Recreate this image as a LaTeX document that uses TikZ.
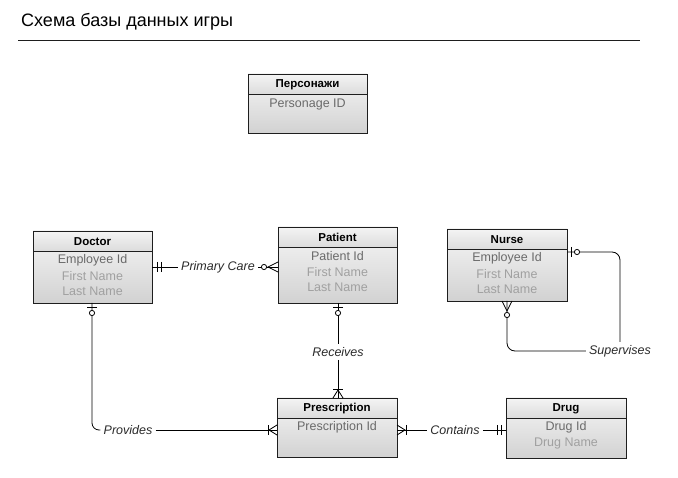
\documentclass[tikz,border=0pt]{standalone}
\usepackage{fontspec}
\setmainfont{Liberation Sans}
\usetikzlibrary{calc}
\definecolor{bordc}{HTML}{1E1E1E}
\definecolor{hdtop}{HTML}{F4F4F4}
\definecolor{hdbot}{HTML}{DCDCDC}
\definecolor{bdtop}{HTML}{F6F6F6}
\definecolor{bdbot}{HTML}{D2D2D2}
\definecolor{keyc}{HTML}{6A6A6A}
\definecolor{attc}{HTML}{A0A0A0}
\definecolor{labc}{HTML}{2A2A2A}
\begin{document}
\begin{tikzpicture}[x=1pt,y=-1pt,
  ebox/.style={draw=bordc, line width=0.8pt, top color=bdtop, bottom color=bdbot, inner sep=0pt, outer sep=0pt},
  hdtext/.style={font=\fontsize{11.5}{13}\selectfont\bfseries, text=black, inner sep=0pt},
  keytext/.style={font=\fontsize{12.5}{14}\selectfont, text=keyc, inner sep=0pt},
  atttext/.style={font=\fontsize{12.5}{14}\selectfont, text=attc, inner sep=0pt},
  rel/.style={font=\fontsize{12.5}{14}\selectfont\itshape, text=labc, inner sep=3pt},
  conn/.style={draw=black, line width=0.8pt},
  mk/.style={draw=black, line width=0.8pt},
  onlyone/.pic={\draw[mk] (5,-5) -- (5,5); \draw[mk] (9,-5) -- (9,5);},
  zeroone/.pic={\draw[mk] (4,-5) -- (4,5); \draw[mk, fill=white] (10,0) circle (2.6);},
  onemany/.pic={\draw[mk] (0,-5) -- (8,0) -- (0,5); \draw[mk] (9,-5) -- (9,5);},
  zeromany/.pic={\draw[mk] (0,-5) -- (10,0) -- (0,5); \draw[mk, fill=white] (14,0) circle (2.6);}
]
\useasboundingbox (0,0) rectangle (678,478);

% title
\node[anchor=west, inner sep=0pt, font=\fontsize{18}{21}\selectfont] (title) at (21,22) {Схема базы данных игры};
\draw[draw=bordc, line width=0.8pt] (18,40) -- (640,40);

% entity macro: name, x1,y1,x2,y2, title
\newcommand\entbox[6]{%
  \node[ebox, minimum width={#4-#2}, minimum height={#5-#3}] (#1) at ({(#2+#4)/2},{(#3+#5)/2}) {};
  \path[top color=hdtop, bottom color=hdbot] (#1.north west) rectangle ($(#1.north east)+(0,20)$);
  \draw[draw=bordc, line width=0.8pt] ($(#1.north west)+(0,20)$) -- ($(#1.north east)+(0,20)$);
  \draw[draw=bordc, line width=0.8pt] (#1.north west) rectangle (#1.south east);
  \node[hdtext] (#1-title) at ($(#1.north)+(0,10.5)$) {#6};
}

\entbox{pers}{248}{74}{367}{133}{Персонажи}
\node[keytext] (pers-a) at ($(pers.north)+(0,30)$) {Personage ID};

\entbox{doctor}{33}{231}{152}{303}{Doctor}
\node[keytext] (doctor-a) at ($(doctor.north)+(0,29.5)$) {Employee Id};
\node[atttext] (doctor-b) at ($(doctor.north)+(0,45)$) {First Name};
\node[atttext] (doctor-c) at ($(doctor.north)+(0,60.5)$) {Last Name};

\entbox{patient}{278}{227}{397}{303}{Patient}
\node[keytext] (patient-a) at ($(patient.north)+(0,29.5)$) {Patient Id};
\node[atttext] (patient-b) at ($(patient.north)+(0,45)$) {First Name};
\node[atttext] (patient-c) at ($(patient.north)+(0,60.5)$) {Last Name};

\entbox{nurse}{447}{229}{567}{301}{Nurse}
\node[keytext] (nurse-a) at ($(nurse.north)+(0,29.5)$) {Employee Id};
\node[atttext] (nurse-b) at ($(nurse.north)+(0,45)$) {First Name};
\node[atttext] (nurse-c) at ($(nurse.north)+(0,60.5)$) {Last Name};

\entbox{presc}{277}{398}{397}{457}{Prescription}
\node[keytext] (presc-a) at ($(presc.north)+(0,29.5)$) {Prescription Id};

\entbox{drug}{506}{398}{626}{458}{Drug}
\node[keytext] (drug-a) at ($(drug.north)+(0,29.5)$) {Drug Id};
\node[atttext] (drug-b) at ($(drug.north)+(0,45)$) {Drug Name};

% relationship labels
\node[rel] (pc) at (218,267) {Primary Care};
\node[rel] (recv) at (338,352) {Receives};
\node[rel] (prov) at (128,430) {Provides};
\node[rel] (cont) at (455,430) {Contains};
\node[rel] (sup) at (620,351) {Supervises};

% connectors
\draw[conn] (doctor.east |- pc) -- (pc.west);
\draw[conn] (pc.east) -- (patient.west |- pc);
\pic at (doctor.east |- pc) {onlyone};
\pic[rotate=180] at (patient.west |- pc) {zeromany};

\draw[conn] (patient.south -| recv) -- (recv.north);
\draw[conn] (recv.south) -- (presc.north -| recv);
\pic[rotate=-90] at (patient.south -| recv) {zeroone};
\pic[rotate=90] at (presc.north -| recv) {onemany};

\coordinate (dbot) at ($(doctor.south)+(-0.5,0)$);
\draw[conn, rounded corners=7pt] (dbot) |- (prov.west);
\draw[conn] (prov.east) -- (presc.west |- prov);
\pic[rotate=-90] at (dbot) {zeroone};
\pic[rotate=180] at (presc.west |- prov) {onemany};

\draw[conn] (presc.east |- cont) -- (cont.west);
\draw[conn] (cont.east) -- (drug.west |- cont);
\pic at (presc.east |- cont) {onemany};
\pic[rotate=180] at (drug.west |- cont) {onlyone};

\coordinate (nr) at ($(nurse.north east)+(0,23)$);
\coordinate (nb) at (nurse.south);
\draw[conn, rounded corners=8pt] (nr) -| (sup.north);
\draw[conn, rounded corners=8pt] (nb) |- (sup.west);
\pic at (nr) {zeroone};
\pic[rotate=-90] at (nb) {zeromany};
\end{tikzpicture}
\end{document}
